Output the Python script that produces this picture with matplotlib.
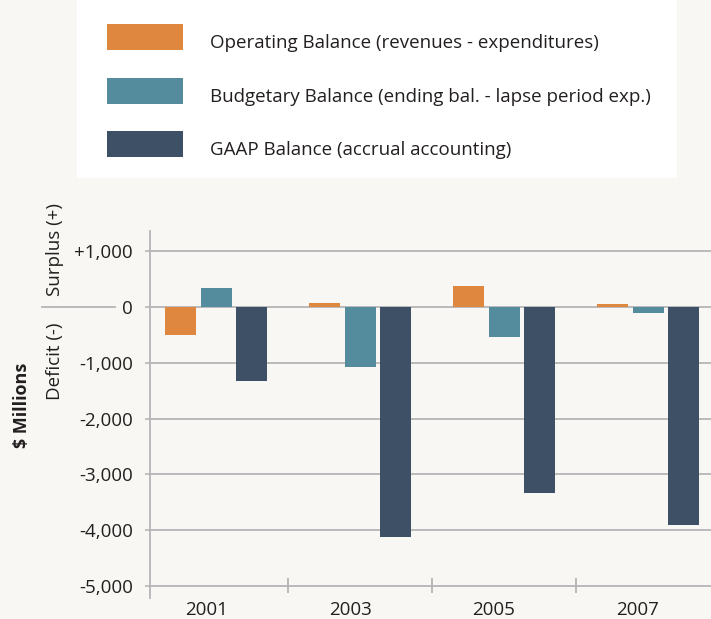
import matplotlib
import matplotlib.pyplot as plt
from matplotlib.patches import Rectangle
matplotlib.use('Agg')

plt.rcParams['font.family'] = ['Open Sans', 'DejaVu Sans']

years = ['2001', '2003', '2005', '2007']
series = ['Operating Balance (revenues - expenditures)',
          'Budgetary Balance (ending bal. - lapse period exp.)',
          'GAAP Balance (accrual accounting)']
operating = [-500, 75, 380, 55]
budgetary = [340, -1070, -540, -110]
gaap = [-1330, -4120, -3330, -3910]
y_ticks = [1000, 0, -1000, -2000, -3000, -4000, -5000]
y_labels = ['+1,000', '0', '-1,000', '-2,000', '-3,000', '-4,000', '-5,000']

colors = ['#e0873f', '#548c9e', '#3d5066']
bg = '#f8f7f3'
grid = '#b5b5b8'
txt = '#231f20'
W, H = 711, 619
fs = 13.5

fig = plt.figure(figsize=(W / 100, H / 100), dpi=100, facecolor=bg)


def fx(px):
    return px / W


def fy(py):
    return 1 - py / H


# legend box (manual, sits on the figure)
fig.add_artist(Rectangle((fx(77), fy(178)), fx(600), 178 / H,
                         transform=fig.transFigure, facecolor='white',
                         edgecolor='none'))
for k, (name, c) in enumerate(zip(series, colors)):
    top = 24 + k * 53.5
    fig.add_artist(Rectangle((fx(107), fy(top + 26)), fx(76), 26 / H,
                             transform=fig.transFigure, facecolor=c,
                             edgecolor='none'))
    fig.text(fx(210), fy(top + 24), name, fontsize=fs, color=txt,
             va='baseline', ha='left')

ax = fig.add_axes([fx(150), 21 / H, fx(570), 367.3 / H])
ax.set_facecolor('none')

x = list(range(len(years)))
offsets = [-0.25, 0.0, 0.245]
for vals, off, c, name in zip([operating, budgetary, gaap], offsets, colors, series):
    ax.bar([i + off for i in x], vals, width=0.215, color=c, label=name,
           zorder=3)

for t in y_ticks:
    ax.axhline(t, color=grid, lw=1.3, zorder=1)

# group separators crossing the -5000 line
ax.vlines([i + 0.5 for i in x[:-1]], -5130, -4860, color=grid, lw=1.3,
          zorder=2)

ax.set_xlim(-0.46, 3.5)
ax.set_ylim(-5220, 1369)

ax.set_yticks(y_ticks)
ax.set_yticklabels(y_labels)
ax.set_xticks([i - 0.07 for i in x])
ax.set_xticklabels(years)
ax.tick_params(axis='y', direction='out', length=3.5, width=1.2, color=grid,
               pad=9, labelsize=fs, labelcolor=txt)
ax.tick_params(axis='x', length=0, pad=2, labelsize=fs, labelcolor=txt)

for s in ['top', 'right', 'bottom']:
    ax.spines[s].set_visible(False)
ax.spines['left'].set_color(grid)
ax.spines['left'].set_linewidth(1.3)

# side labels
fig.text(fx(55), fy(250), 'Surplus (+)', rotation=90, fontsize=fs,
         color=txt, ha='center', va='center')
fig.text(fx(55), fy(361), 'Deficit (-)', rotation=90, fontsize=fs,
         color=txt, ha='center', va='center')
fig.text(fx(22), fy(405), '$ Millions', rotation=90, fontsize=13,
         fontweight='bold', color=txt, ha='center', va='center')
fig.add_artist(plt.Line2D([fx(42), fx(115)], [fy(307), fy(307)],
                          transform=fig.transFigure, color=grid, lw=1.3))

fig.savefig('out.png', dpi=100, facecolor=bg)
